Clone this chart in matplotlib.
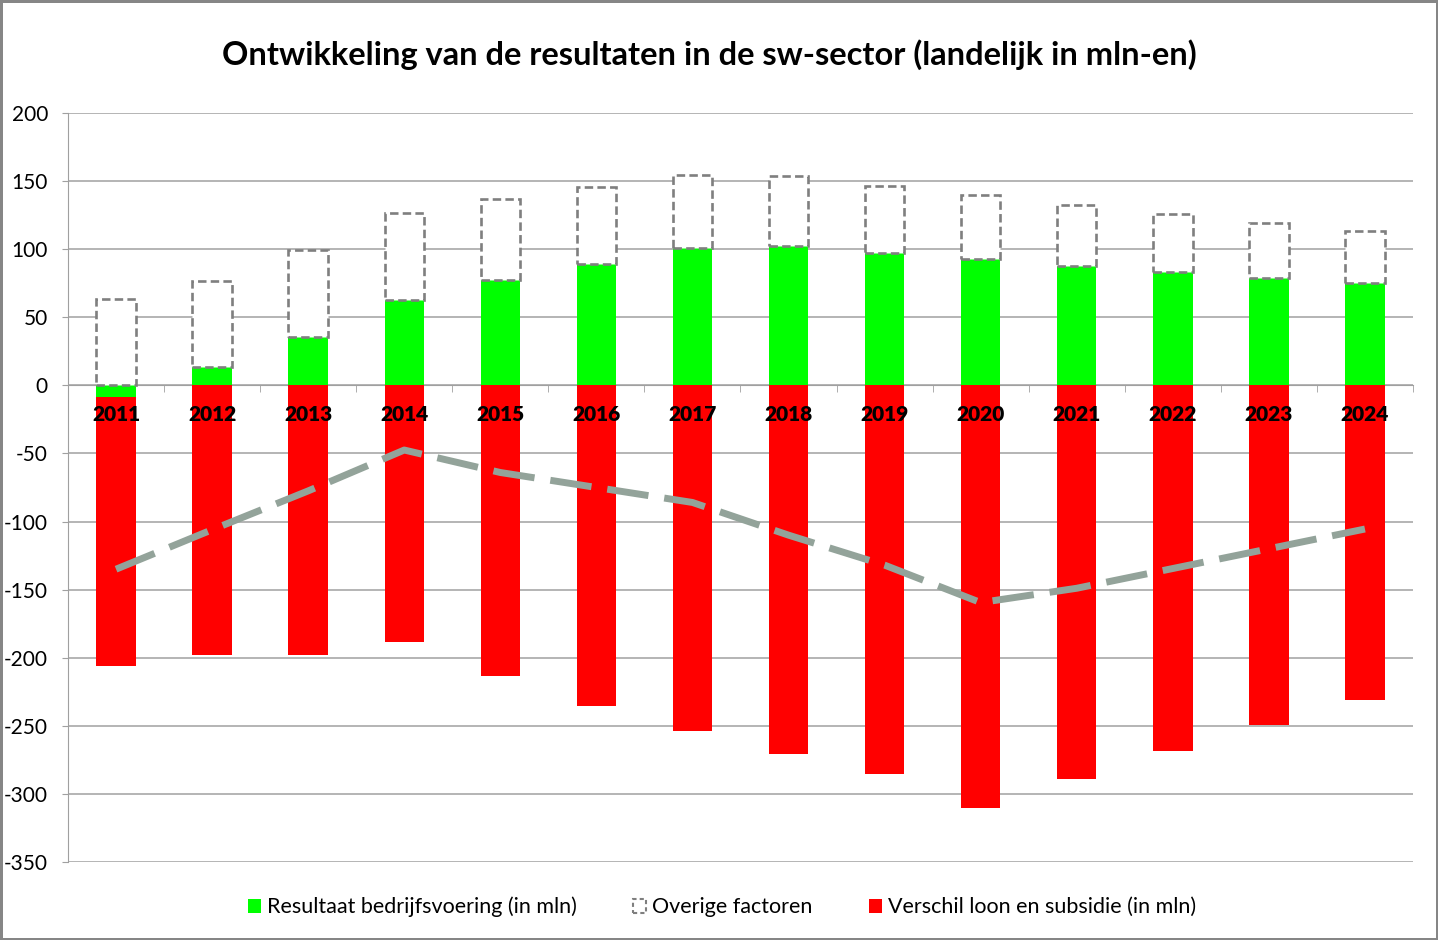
import numpy as np
import matplotlib.pyplot as plt
from matplotlib.patches import Patch

plt.rcParams['font.family'] = ['Lato', 'DejaVu Sans']
plt.rcParams['axes.unicode_minus'] = False

# data (mln euro)
years = [str(y) for y in range(2011, 2025)]
resultaat = [-8.6, 13.7, 35.7, 63.0, 77.0, 89.0, 100.5, 102.5, 97.5, 92.5, 88.0, 83.5, 79.0, 75.5]
overige = [63.6, 62.8, 63.5, 63.6, 59.9, 57.0, 54.2, 51.5, 48.6, 47.0, 44.4, 42.3, 40.5, 37.6]
verschil = [-197.4, -198.0, -198.0, -188.4, -213.3, -235.3, -253.7, -270.5, -285.2, -310.1, -288.9, -268.3, -249.3, -230.9]
saldo = [-135.0, -106.0, -77.5, -47.5, -64.0, -75.0, -86.0, -110.0, -132.0, -159.5, -149.0, -134.5, -120.0, -105.5]

green = '#00FF00'
red = '#FF0000'
grey = '#A0A0A0'
box_col = '#7F7F7F'
line_col = '#93A39A'

x = np.arange(len(years))
res = np.array(resultaat)
pos_base = np.maximum(res, 0)   # excel stacks positives and negatives apart
neg_base = np.minimum(res, 0)
w = 0.41

fig = plt.figure(figsize=(14.38, 9.4), dpi=100)
fig.patch.set_edgecolor('#868686')
fig.patch.set_linewidth(2.5)
ax = fig.add_axes([0.0473, 0.083, 0.9353, 0.7968])

ax.bar(x, res, w, color=green, zorder=3)
ax.bar(x, verschil, w, bottom=neg_base, color=red, zorder=3)
ax.bar(x, overige, w, bottom=pos_base, facecolor='white', edgecolor=box_col,
       linewidth=1.9, linestyle=(0, (3.2, 1.6)), zorder=3)
ax.plot(x, saldo, color=line_col, linewidth=5, dashes=(6, 2.3), zorder=4)

ax.set_xlim(-0.5, len(years) - 0.5)
ax.set_ylim(-350, 200)
ax.set_yticks(np.arange(-350, 201, 50))
ax.yaxis.grid(True, color=grey, linewidth=1.1, zorder=0)
ax.set_axisbelow(True)

for s in ['top', 'right']:
    ax.spines[s].set_visible(False)
ax.spines['bottom'].set_position(('data', 0))
ax.spines['bottom'].set_color(grey)
ax.spines['left'].set_color(grey)

# year labels sit on top of the red bars
ax.set_xticks(x)
ax.set_xticklabels([])
ax.set_xticks(np.arange(-0.5, len(years), 1), minor=True)
ax.tick_params(axis='x', which='major', length=0)
ax.tick_params(axis='x', which='minor', length=5, color=grey, direction='out')
for xi, yr in zip(x, years):
    ax.annotate(yr, (xi, 0), xytext=(0, -14.5), textcoords='offset points',
                ha='center', va='top', fontsize=15, fontweight='heavy', zorder=6)
ax.tick_params(axis='y', length=4.5, color=grey, labelsize=15, pad=10)

fig.text(0.493, 1 - 55 / 940, 'Ontwikkeling van de resultaten in de sw-sector (landelijk in mln-en)',
         ha='center', va='center', fontsize=23.5, fontweight='bold')

handles = [
    Patch(facecolor=green, edgecolor='none', label='Resultaat bedrijfsvoering (in mln)'),
    Patch(facecolor='white', edgecolor=box_col, linestyle=(0, (2, 1.5)), linewidth=1.5,
          label='Overige factoren'),
    Patch(facecolor=red, edgecolor='none', label='Verschil loon en subsidie (in mln)'),
]
fig.legend(handles=handles, loc='center', bbox_to_anchor=(0.502, 1 - 907 / 940), ncol=3,
           frameon=False, fontsize=15.5, handlelength=0.6, handleheight=0.6,
           handletextpad=0.3, columnspacing=2.6)

fig.savefig('out.png', dpi=100, edgecolor=fig.get_edgecolor())
